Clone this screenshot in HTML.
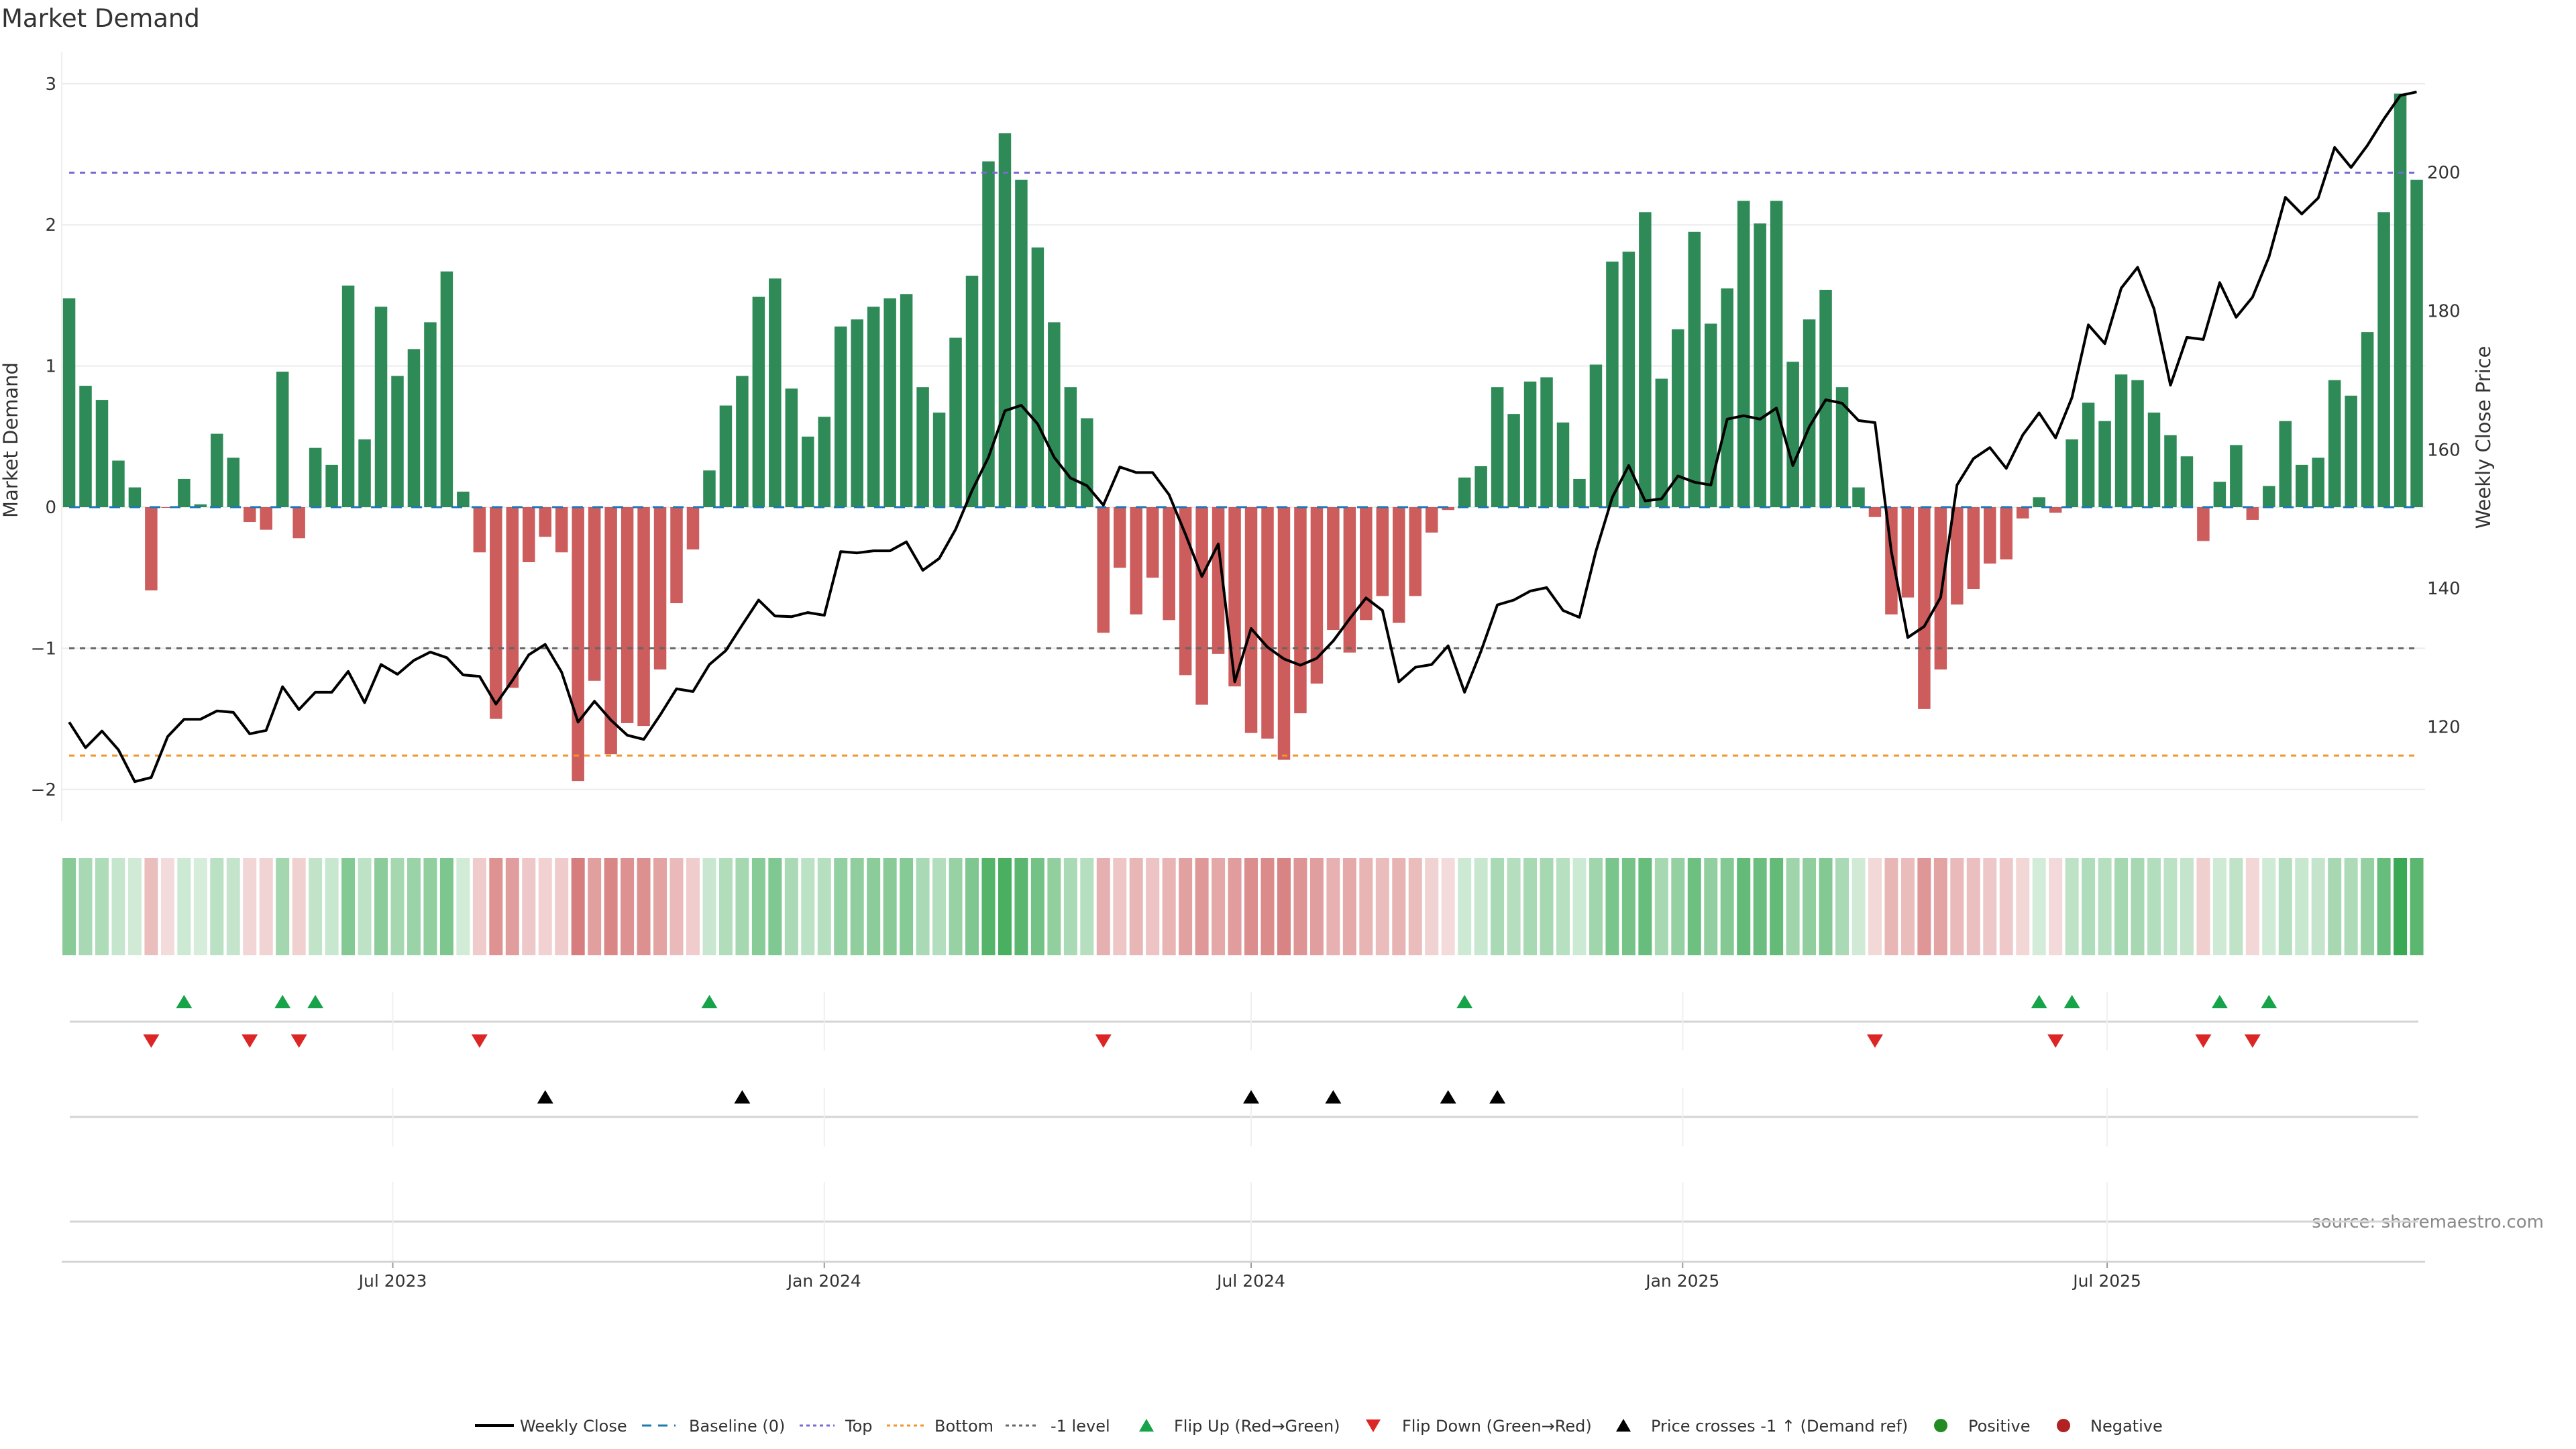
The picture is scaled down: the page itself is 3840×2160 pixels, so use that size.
<!DOCTYPE html>
<html><head><meta charset="utf-8"><title>Market Demand</title>
<style>
html,body{margin:0;padding:0;background:#fff;}
svg{display:block;font-family:"DejaVu Sans","Liberation Sans",sans-serif;}
</style></head>
<body>
<svg id="chart" width="3840" height="2160" viewBox="0 0 3840 2160" xmlns="http://www.w3.org/2000/svg">
<rect width="3840" height="2160" fill="#fff"/>
<text x="2" y="40" font-size="37" fill="#333">Market Demand</text>
<text transform="translate(26,656) rotate(-90)" text-anchor="middle" font-size="29" fill="#333">Market Demand</text>
<text transform="translate(3712,652) rotate(-90)" text-anchor="middle" font-size="29" fill="#333">Weekly Close Price</text>
<text x="3792" y="1830" text-anchor="end" font-size="26" fill="#888">source: sharemaestro.com</text>
<g id="g-grid"></g><g id="g-bars"></g><g id="g-ref"></g><g id="g-line"></g><g id="g-heat"></g><g id="g-marks"></g><g id="g-axes"></g><g id="g-legend"></g>
</svg>
<script>
// ---- data ----
const startDate = "2023-02-13";
const demand = [1.48,0.86,0.76,0.33,0.14,-0.59,-0.005,0.2,0.02,0.52,0.35,-0.105,-0.16,0.96,-0.22,0.42,0.3,1.57,0.48,1.42,0.93,1.12,1.31,1.67,0.11,-0.32,-1.5,-1.28,-0.39,-0.21,-0.32,-1.94,-1.23,-1.75,-1.53,-1.55,-1.15,-0.68,
-0.30,0.26,0.72,0.93,1.49,1.62,0.84,0.5,0.64,1.28,1.33,1.42,1.48,1.51,0.85,0.67,1.2,1.64,2.45,2.65,2.32,1.84,1.31,0.85,0.63,-0.89,-0.43,-0.76,-0.5,-0.8,-1.19,-1.4,-1.04,-1.27,-1.6,-1.64,-1.79,-1.46,
-1.25,-0.87,-1.03,-0.8,-0.63,-0.82,-0.63,-0.18,-0.02,0.21,0.29,0.85,0.66,0.89,0.92,0.6,0.2,1.01,1.74,1.81,2.09,0.91,1.26,1.95,1.3,1.55,2.17,2.01,2.17,1.03,1.33,1.54,0.85,0.14,-0.07,-0.76,-0.64,-1.43,
-1.15,-0.69,-0.58,-0.40,-0.37,-0.08,0.07,-0.04,0.48,0.74,0.61,0.94,0.9,0.67,0.51,0.36,-0.24,0.18,0.44,-0.09,0.15,0.61,0.3,0.35,0.9,0.79,1.24,2.09,2.93,2.32];
const price = [120.7,117.0,119.4,116.7,112.1,112.7,118.6,121.1,121.1,122.3,122.1,119.0,119.5,125.8,122.5,125.0,125.0,128.0,123.5,129.0,127.6,129.6,130.8,130.0,127.5,127.3,123.3,126.7,130.4,131.9,127.9,120.7,123.7,121.0,118.8,118.2,121.7,125.5,
125.1,129.0,131.0,134.7,138.3,136.0,135.9,136.5,136.1,145.3,145.1,145.4,145.4,146.7,142.6,144.3,148.5,154.1,158.9,165.6,166.4,163.7,158.9,155.9,154.8,152.0,157.5,156.7,156.7,153.5,147.8,141.7,146.4,126.5,134.2,131.5,129.8,128.9,
129.9,132.4,135.6,138.6,136.8,126.5,128.6,129.0,131.7,125.0,130.9,137.6,138.3,139.6,140.1,136.8,135.8,145.3,153.1,157.7,152.6,152.9,156.2,155.3,154.9,164.4,164.9,164.4,166.0,157.7,163.3,167.2,166.7,164.2,163.9,145.3,132.9,
134.5,138.7,154.9,158.7,160.3,157.3,162.1,165.3,161.7,167.5,178.0,175.3,183.3,186.3,180.3,169.3,176.2,175.9,184.1,179.1,182.0,187.8,196.4,194.0,196.3,203.6,200.7,203.9,207.7,211.1,211.6];
const yTicks = [3,2,1,0,-1,-2];
const yTickLabels = ["3","2","1","0","\u22121","\u22122"];
const priceTicks = [120,140,160,180,200];
const xTickDates = ["2023-07-01","2024-01-01","2024-07-01","2025-01-01","2025-07-01"];
const xTickLabels = ["Jul 2023","Jan 2024","Jul 2024","Jan 2025","Jul 2025"];
const topLevel = 2.37;
const bottomLevel = -1.76;
const refLevel = -1;

// ---- scales ----
const NS="http://www.w3.org/2000/svg";
const DAY=86400000;
const t0=Date.parse("2023-07-01");
function xDate(s){return 585.5+(Date.parse(s)-t0)/DAY*3.496;}
function xIdx(i){return xDate(startDate)+i*7*3.496;}
function yD(v){return 756-210.4*v;}
function yP(p){return yD(-1.557+(p-120)*0.04911);}
const X0=92, X1=3615;
function el(tag,attrs,parent,text){const e=document.createElementNS(NS,tag);for(const k in attrs)e.setAttribute(k,attrs[k]);if(text!==undefined)e.textContent=text;parent.appendChild(e);return e;}
const G=id=>document.getElementById(id);

// grid
yTicks.forEach((t,k)=>{
  const g=el('line',{x1:X0,x2:X1,y1:yD(t),y2:yD(t),stroke:'#ececec','stroke-width':2},G('g-grid'));
  
  
  const lb=el('text',{x:84,y:yD(t)+9,'text-anchor':'end','font-size':26,fill:'#333'},G('g-axes'),yTickLabels[k]);
  
  
});
priceTicks.forEach(p=>{
  const lb=el('text',{x:3618,y:yP(p)+9,'font-size':26,fill:'#333'},G('g-axes'),String(p));
  
  
});
el('line',{x1:X0,x2:X0,y1:78,y2:1224,stroke:'#eee','stroke-width':2},G('g-grid'));

// bars
const bw=18.5;
demand.forEach((v,i)=>{
  const y=Math.min(yD(v),yD(0)),h=Math.abs(yD(v)-yD(0));
  const r=el('rect',{x:xIdx(i)-bw/2,y:y,width:bw,height:Math.max(h,0.8),fill:v>=0?'#2e8b57':'#cd5c5c'},G('g-bars'));
  
  
});
// reference lines
const xa=xIdx(0), xb=xIdx(demand.length-1);
[[0,'#1f77b4','16,14',3,'baseline-line'],[topLevel,'#7b68d0','8,8',3,'top-line'],[bottomLevel,'#f0952a','8,8',3,'bottom-line'],[refLevel,'#666','8,8',3,'minus-one-line']].forEach(a=>{
  const l=el('line',{x1:xa,x2:xb,y1:yD(a[0]),y2:yD(a[0]),stroke:a[1],'stroke-dasharray':a[2],'stroke-width':a[3]},G('g-ref'));
  
  
});
// price line
const pts=price.map((p,i)=>xIdx(i).toFixed(1)+','+yP(p).toFixed(1)).join(' ');
const pl=el('polyline',{points:pts,fill:'none',stroke:'#000','stroke-width':4,'stroke-linejoin':'round'},G('g-line'));



// heat strip
demand.forEach((v,i)=>{
  const a=Math.min(1,0.2+0.27*Math.abs(v));
  const base=v>=0?[56,168,82]:[200,75,75];
  const c=base.map(b=>Math.round(255-(255-b)*a));
  const r=el('rect',{x:xIdx(i)-10,y:1279,width:20,height:145,fill:'rgb('+c.join(',')+')'},G('g-heat'));
  
  
});

// marker panels
[[1523],[1665],[1821]].forEach(a=>{
  const l=el('line',{x1:104,x2:3605,y1:a[0],y2:a[0],stroke:'#d4d4d4','stroke-width':3},G('g-grid'));
  
  
});
xTickDates.forEach((d,k)=>{
  const x=xDate(d);
  [[1479,1566],[1622,1709],[1762,1880]].forEach(s=>{el('line',{x1:x,x2:x,y1:s[0],y2:s[1],stroke:'#eef0f3','stroke-width':2},G('g-grid'));});
  el('line',{x1:x,x2:x,y1:1881,y2:1890,stroke:'#999','stroke-width':2},G('g-axes'));
  const lb=el('text',{x:x,y:1918,'text-anchor':'middle','font-size':25,fill:'#333'},G('g-axes'),xTickLabels[k]);
  
  
});
el('line',{x1:X0,x2:X1,y1:1881,y2:1881,stroke:'#d4d4d4','stroke-width':3},G('g-axes'));
function tri(x,y,up,color,name){
  const d=up?`M${x-12},${y+9} L${x+12},${y+9} L${x},${y-11} Z`:`M${x-12},${y-9} L${x+12},${y-9} L${x},${y+11} Z`;
  const p=el('path',{d:d,fill:color},G('g-marks'));
  
  
}
for(let i=1;i<demand.length;i++){
  if(demand[i-1]<0&&demand[i]>=0) tri(xIdx(i),1494,true,'#16a34a','flip-up-marker');
  if(demand[i-1]>=0&&demand[i]<0) tri(xIdx(i),1551,false,'#dc2626','flip-down-marker');
  if(yP(price[i-1])>yD(refLevel)&&yP(price[i])<=yD(refLevel)) tri(xIdx(i),1636,true,'#000','price-cross-marker');
}

// legend
const LG=G('g-legend'), ly=2125;
function ltext(x,s,name){const t=el('text',{x:x,y:ly+9,'font-size':24,fill:'#333'},LG,s);}
el('line',{x1:708,x2:766,y1:ly,y2:ly,stroke:'#000','stroke-width':4},LG); ltext(775,'Weekly Close','legend-weekly-close');
el('line',{x1:957,x2:1007,y1:ly,y2:ly,stroke:'#1f77b4','stroke-width':3,'stroke-dasharray':'14,10'},LG); ltext(1027,'Baseline (0)','legend-baseline');
el('line',{x1:1192,x2:1244,y1:ly,y2:ly,stroke:'#7b68d0','stroke-width':3,'stroke-dasharray':'5,5'},LG); ltext(1260,'Top','legend-top');
el('line',{x1:1322,x2:1377,y1:ly,y2:ly,stroke:'#f0952a','stroke-width':3,'stroke-dasharray':'5,5'},LG); ltext(1393,'Bottom','legend-bottom');
el('line',{x1:1499,x2:1549,y1:ly,y2:ly,stroke:'#666','stroke-width':3,'stroke-dasharray':'5,5'},LG); ltext(1566,'-1 level','legend-minus-one');
el('path',{d:`M1698,${ly+9} L1720,${ly+9} L1709,${ly-10} Z`,fill:'#16a34a'},LG); ltext(1750,'Flip Up (Red\u2192Green)','legend-flip-up');
el('path',{d:`M2036,${ly-9} L2058,${ly-9} L2047,${ly+10} Z`,fill:'#dc2626'},LG); ltext(2090,'Flip Down (Green\u2192Red)','legend-flip-down');
el('path',{d:`M2409,${ly+9} L2431,${ly+9} L2420,${ly-10} Z`,fill:'#000'},LG); ltext(2461,'Price crosses -1 \u2191 (Demand ref)','legend-price-cross');
el('circle',{cx:2893,cy:ly,r:10,fill:'#228b22'},LG); ltext(2934,'Positive','legend-positive');
el('circle',{cx:3076,cy:ly,r:10,fill:'#b22222'},LG); ltext(3116,'Negative','legend-negative');
</script>
</body></html>
